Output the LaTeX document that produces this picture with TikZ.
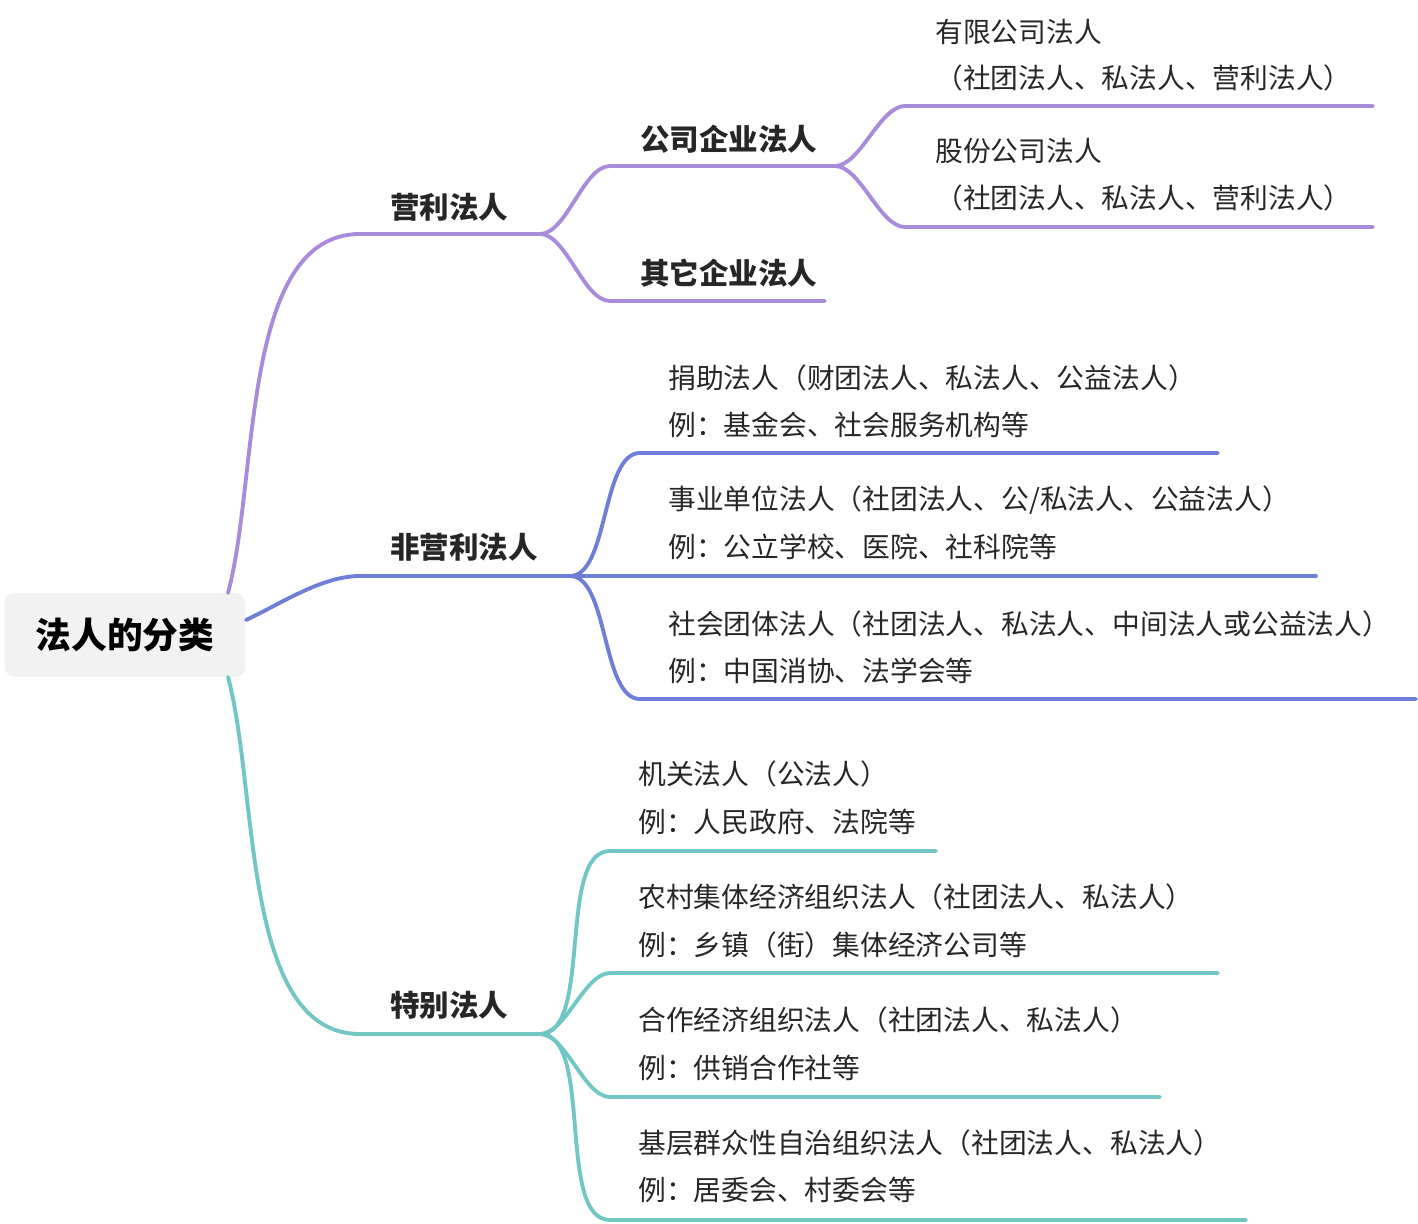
\documentclass[tikz,border=0pt]{standalone}
\usepackage{fontspec}
\newfontfamily\cjk{Noto Sans CJK SC}
\begin{document}
\begin{tikzpicture}[x=0.02cm,y=-0.02cm,
    txt/.style={anchor=west, inner sep=0pt, font=\cjk\fontsize{15.8}{17}\selectfont, text=black!85},
    bold/.style={txt, font=\cjk\bfseries\fontsize{16.8}{18}\selectfont},
    purp/.style={draw=purpleline, line width=2.2pt, line cap=round},
    blu/.style={draw=blueline, line width=2.2pt, line cap=round},
    teal/.style={draw=tealline, line width=2.2pt, line cap=round},
    br/.style={out=0, in=180, looseness=0.7}]
\definecolor{purpleline}{HTML}{A98BDB}
\definecolor{blueline}{HTML}{6F7FD8}
\definecolor{tealline}{HTML}{72C6C4}
\useasboundingbox (0,0) rectangle (1418,1224);

% root
\node[fill=black!5, rounded corners=6pt, minimum width=4.82cm, minimum height=1.68cm,
      font=\cjk\bfseries\fontsize{20.3}{23}\selectfont] (root) at (125,635) {法人的分类};
\coordinate (rp) at (228,593);
\coordinate (rb) at (246,620);
\coordinate (rt) at (228,677);

% level 1
\node[bold] (yl) at (390,207) {营利法人};
\node[bold] (fyl) at (390,547) {非营利法人};
\node[bold] (tb) at (390,1005) {特别法人};
\coordinate (yl1) at (360,234);  \coordinate (yl2) at (540,234);
\coordinate (fy1) at (360,576);  \coordinate (fy2) at (570,576);
\coordinate (tb1) at (360,1034); \coordinate (tb2) at (540,1034);

\draw[purp] (rp) to[out=75, in=180, looseness=0.8] (yl1) -- (yl2);
\draw[blu] (rb) to[out=25, in=180, looseness=0.8] (fy1) -- (fy2);
\draw[teal] (rt) to[out=-75, in=180, looseness=0.8] (tb1) -- (tb2);

% 营利法人
\node[bold] (gs) at (640,139) {公司企业法人};
\node[bold] (qt) at (640,273) {其它企业法人};
\coordinate (gs1) at (610,166); \coordinate (gs2) at (835,166);
\coordinate (qt1) at (610,301); \coordinate (qt2) at (825,301);
\draw[purp] (yl2) to[br] (gs1) -- (gs2);
\draw[purp] (yl2) to[br] (qt1) -- (qt2);

\node[txt] (yx) at (935,32) {有限公司法人};
\node[txt] (yxb) at (935,78) {（社团法人、私法人、营利法人）};
\node[txt] (gf) at (935,151) {股份公司法人};
\node[txt] (gfb) at (935,198) {（社团法人、私法人、营利法人）};
\coordinate (yx1) at (905,106); \coordinate (yx2) at (1373,106);
\coordinate (gf1) at (905,227); \coordinate (gf2) at (1373,227);
\draw[purp] (gs2) to[br] (yx1) -- (yx2);
\draw[purp] (gs2) to[br] (gf1) -- (gf2);

% 非营利法人
\node[txt] (jz) at (668,378) {捐助法人（财团法人、私法人、公益法人）};
\node[txt] (jzb) at (668,425) {例：基金会、社会服务机构等};
\node[txt] (sy) at (668,500) {事业单位法人（社团法人、公/私法人、公益法人）};
\node[txt] (syb) at (668,547) {例：公立学校、医院、社科院等};
\node[txt] (sh) at (668,624) {社会团体法人（社团法人、私法人、中间法人或公益法人）};
\node[txt] (shb) at (668,671) {例：中国消协、法学会等};
\coordinate (jz1) at (640,453); \coordinate (jz2) at (1218,453);
\coordinate (sy2) at (1316,576);
\coordinate (sh1) at (640,699); \coordinate (sh2) at (1416,699);
\draw[blu] (fy2) to[br] (jz1) -- (jz2);
\draw[blu] (fy2) -- (sy2);
\draw[blu] (fy2) to[br] (sh1) -- (sh2);

% 特别法人
\node[txt] (jg) at (638,774) {机关法人（公法人）};
\node[txt] (jgb) at (638,822) {例：人民政府、法院等};
\node[txt] (nc) at (638,897) {农村集体经济组织法人（社团法人、私法人）};
\node[txt] (ncb) at (638,945) {例：乡镇（街）集体经济公司等};
\node[txt] (hz) at (638,1020) {合作经济组织法人（社团法人、私法人）};
\node[txt] (hzb) at (638,1068) {例：供销合作社等};
\node[txt] (jc) at (638,1143) {基层群众性自治组织法人（社团法人、私法人）};
\node[txt] (jcb) at (638,1190) {例：居委会、村委会等};
\coordinate (jg1) at (610,851);  \coordinate (jg2) at (936,851);
\coordinate (nc1) at (610,973);  \coordinate (nc2) at (1218,973);
\coordinate (hz1) at (610,1097); \coordinate (hz2) at (1160,1097);
\coordinate (jc1) at (610,1220); \coordinate (jc2) at (1246,1220);
\draw[teal] (tb2) to[br] (jg1) -- (jg2);
\draw[teal] (tb2) to[br] (nc1) -- (nc2);
\draw[teal] (tb2) to[br] (hz1) -- (hz2);
\draw[teal] (tb2) to[br] (jc1) -- (jc2);
\end{tikzpicture}
\end{document}
